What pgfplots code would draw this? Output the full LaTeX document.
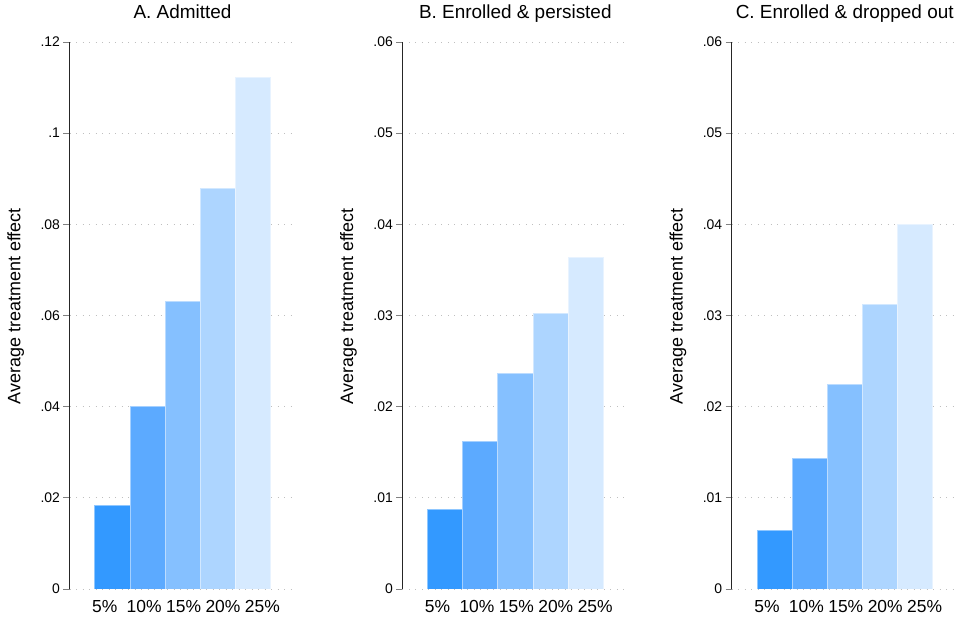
\documentclass[border=0pt]{standalone}
\usepackage{pgfplots}
\pgfplotsset{compat=1.18}
\usepackage{fontspec}
\setmainfont{Liberation Sans}
\definecolor{c1}{RGB}{51,153,255}
\definecolor{c2}{RGB}{92,170,255}
\definecolor{c3}{RGB}{133,192,255}
\definecolor{c4}{RGB}{173,213,255}
\definecolor{c5}{RGB}{214,234,255}
\pgfplotsset{
  panel/.style={
    scale only axis, width=226bp, height=547bp,
    xmin=-0.22, xmax=6.22, ymin=0,
    axis y line*=left, axis x line*=bottom,
    x axis line style={draw=none},
    y axis line style={draw=black!85, line width=1.1bp, -},
    xtick={0.785,1.908,3.031,4.154,5.277}, xticklabels={5\%,10\%,15\%,20\%,25\%},
    xtick style={draw=none},
    xticklabel style={font=\fontsize{17.5}{20}\selectfont, anchor=base, yshift=-17.5bp},
    ytick style={draw=gray, line width=0.8bp},
    tick align=outside, major tick length=6bp,
    scaled y ticks=false,
    yticklabel style={font=\fontsize{14}{16}\selectfont},
    ymajorgrids,
    major grid style={draw=gray!50, line width=0.9bp, dash pattern=on 0.9bp off 5.6bp},
    ylabel={Average treatment effect},
    ylabel style={font=\fontsize{18}{21}\selectfont, at={(axis description cs:-0.238,0.517)}, anchor=center},
    title style={font=\fontsize{19}{22}\selectfont, at={(axis description cs:0.5,1)}, anchor=base, yshift=17.5bp},
  },
  bb/.style={ybar, bar shift=0pt, bar width=1, fill=#1, draw=#1!55!white, line width=0.7bp},
}
\begin{document}
\begin{tikzpicture}
\path[use as bounding box] (0,0) rectangle (963bp,618bp);
% Panel A
\begin{axis}[panel, at={(69.5bp,29bp)}, anchor=south west,
  title={A. Admitted}, ymax=0.12,
  ytick={0,0.02,0.04,0.06,0.08,0.1,0.12},
  yticklabels={0,.02,.04,.06,.08,.1,.12}]
\addplot[bb=c1] coordinates {(1,0.0184)};
\addplot[bb=c2] coordinates {(2,0.0401)};
\addplot[bb=c3] coordinates {(3,0.0632)};
\addplot[bb=c4] coordinates {(4,0.0878)};
\addplot[bb=c5] coordinates {(5,0.1123)};
\end{axis}
% Panel B
\begin{axis}[panel, at={(402.3bp,29bp)}, anchor=south west,
  title={B. Enrolled \& persisted}, ymax=0.06,
  ytick={0,0.01,0.02,0.03,0.04,0.05,0.06},
  yticklabels={0,.01,.02,.03,.04,.05,.06}]
\addplot[bb=c1] coordinates {(1,0.0087)};
\addplot[bb=c2] coordinates {(2,0.0162)};
\addplot[bb=c3] coordinates {(3,0.0236)};
\addplot[bb=c4] coordinates {(4,0.0302)};
\addplot[bb=c5] coordinates {(5,0.0364)};
\end{axis}
% Panel C
\begin{axis}[panel, at={(731.7bp,29bp)}, anchor=south west,
  title={C. Enrolled \& dropped out}, ymax=0.06,
  ytick={0,0.01,0.02,0.03,0.04,0.05,0.06},
  yticklabels={0,.01,.02,.03,.04,.05,.06}]
\addplot[bb=c1] coordinates {(1,0.0064)};
\addplot[bb=c2] coordinates {(2,0.0143)};
\addplot[bb=c3] coordinates {(3,0.0224)};
\addplot[bb=c4] coordinates {(4,0.0312)};
\addplot[bb=c5] coordinates {(5,0.0400)};
\end{axis}
\end{tikzpicture}
\end{document}
